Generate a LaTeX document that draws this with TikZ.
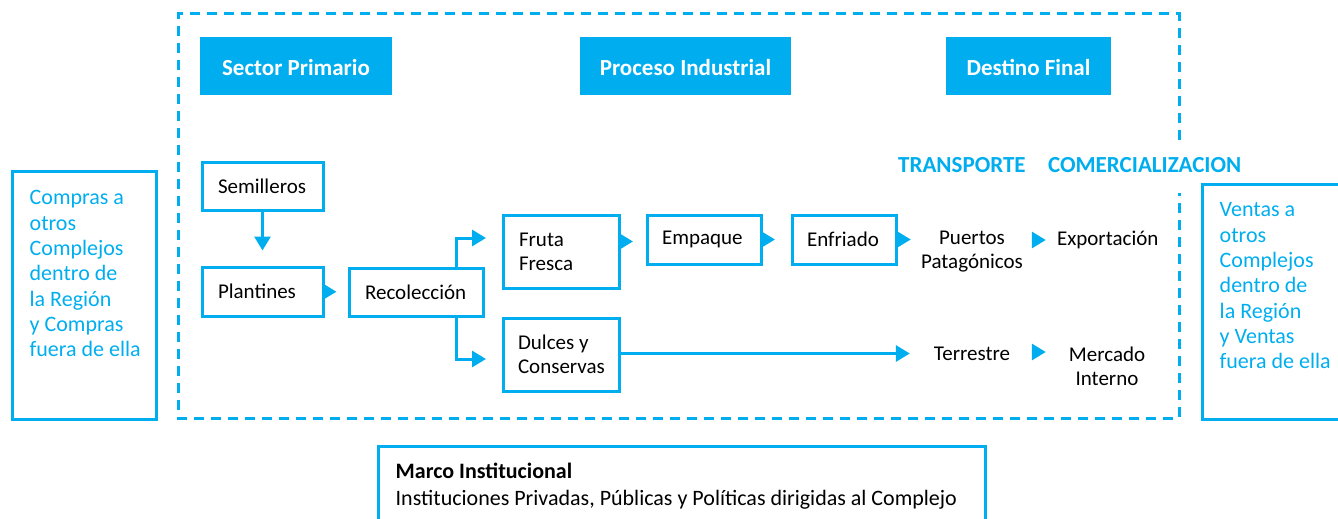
\documentclass[tikz,border=0pt]{standalone}
\usepackage{fontspec}
\setmainfont{Carlito}
\usetikzlibrary{arrows.meta}
\usetikzlibrary{calc}
\usetikzlibrary{positioning}
\definecolor{azul}{HTML}{00AEEF}

\begin{document}
\begin{tikzpicture}[x=1pt,y=-1pt,
  caja/.style={draw=azul,line width=3pt,inner xsep=16pt,align=flush left,font=\fontsize{21}{24}\selectfont},
  titulo/.style={fill=azul,text=white,minimum height=58pt,text height=18.8pt,text depth=0pt,font=\bfseries\fontsize{23}{24}\selectfont},
  etiqueta/.style={text=azul,inner sep=0pt,font=\bfseries\fontsize{23}{24}\selectfont},
  texto/.style={inner sep=0pt,align=center,font=\fontsize{21}{24}\selectfont},
  lateral/.style={draw=azul,line width=3pt},
  lateraltexto/.style={inner sep=0pt,align=flush left,text=azul,font=\fontsize{22}{25.3}\selectfont},
  discontinua/.style={draw=azul,line width=3pt,dash pattern=on 10pt off 7pt},
  punta/.style={draw=azul,line width=3pt,line join=miter,-{Triangle[length=14pt,width=16pt]}}]

\useasboundingbox (0,0) rectangle (1338,519);

\draw[discontinua] (1179,140) -- (1179,14) -- (178,14) -- (178,418) -- (1179,418) -- (1179,193);

\node[titulo,minimum width=192pt] (sector) at (296,66) {Sector Primario};
\node[titulo,minimum width=211pt] (proceso) at (685.5,66) {Proceso Industrial};
\node[titulo,minimum width=165pt] (destino) at (1028.5,66) {Destino Final};

\node[etiqueta,anchor=west] (transporte) at (898,165) {TRANSPORTE};
\node[etiqueta,right=22pt of transporte] (comercial) {COMERCIALIZACION};

\node[caja,text width=89pt,minimum height=48pt] (semilleros) at (262.5,186) {Semilleros};
\node[caja,text width=89pt,minimum height=49pt] (plantines) at (262.5,291.5) {Plantines};
\node[caja,text width=102pt,minimum height=48pt] (recoleccion) at (416,292) {Recolección};
\node[caja,text width=84pt,minimum height=73pt] (fruta) at (561,251.5) {Fruta\\Fresca};
\node[caja,text width=86pt,inner xsep=15pt,minimum height=73pt] (dulces) at (561,354.5) {Dulces y\\Conservas};
\node[caja,text width=84pt,inner xsep=15pt,minimum height=49pt] (empaque) at (704,239.5) {Empaque};
\node[caja,text width=74pt,inner xsep=15pt,minimum height=49pt] (enfriado) at (844,239.5) {Enfriado};

\node[texto,text width=104pt] (puertos) at (972,252) {Puertos\\Patagónicos};
\node[texto,text width=100pt] (exportacion) at (1107,240) {Exportación};
\node[texto,text width=104pt] (terrestre) at (972,354) {Terrestre};
\node[texto,text width=100pt] (mercado) at (1107,366) {Mercado\\Interno};

\draw[punta,shorten >=15pt] (semilleros) -- (plantines);
\draw[punta,shorten >=11pt] (plantines) -- (recoleccion);
\draw[punta,shorten >=15.5pt] ([xshift=40pt]recoleccion.north) |- ([yshift=13.5pt]fruta.west);
\draw[punta,shorten >=15.5pt] ([xshift=40pt]recoleccion.south) |- ([yshift=-4.5pt]dulces.west);
\draw[punta,shorten >=12.5pt] ([yshift=-2pt]fruta.east |- empaque.west) -- ([yshift=-2pt]empaque.west);
\draw[punta,shorten >=15.5pt] (empaque) -- (enfriado);
\draw[punta,shorten >=9pt] (enfriado.east) -- (enfriado.east -| puertos.west);
\draw[punta,shorten <=8pt,shorten >=11pt] (puertos.east |- exportacion.west) -- (exportacion.west);
\draw[punta,shorten >=10pt] ([yshift=1pt]dulces.east) -- ([yshift=1pt]dulces.east -| terrestre.west);
\draw[punta,shorten <=8pt,shorten >=11pt] ([yshift=2pt]terrestre.east) -- ([yshift=2pt]terrestre.east -| mercado.west);

\node[lateral,minimum width=144pt,minimum height=248pt] (compras) at (84,295) {};
\node[lateraltexto,below right=21pt and 19pt of compras.north west,anchor=north west] {Compras a\\otros\\Complejos\\dentro de\\la Región\\y Compras\\fuera de ella};

\node[lateral,minimum width=143pt,minimum height=235pt] (ventas) at (1273.5,301.5) {};
\node[lateraltexto,below right=20pt and 19pt of ventas.north west,anchor=north west] {Ventas a\\otros\\Complejos\\dentro de\\la Región\\y Ventas\\fuera de ella};

\node[lateral,minimum width=607pt,minimum height=100pt] (marco) at (681.5,496) {};
\node[texto,align=flush left,below right=18pt and 19pt of marco.north west,anchor=north west,font=\fontsize{22}{27}\selectfont] {\textbf{Marco Institucional}\\Instituciones Privadas, Públicas y Políticas dirigidas al Complejo};
\end{tikzpicture}
\end{document}
